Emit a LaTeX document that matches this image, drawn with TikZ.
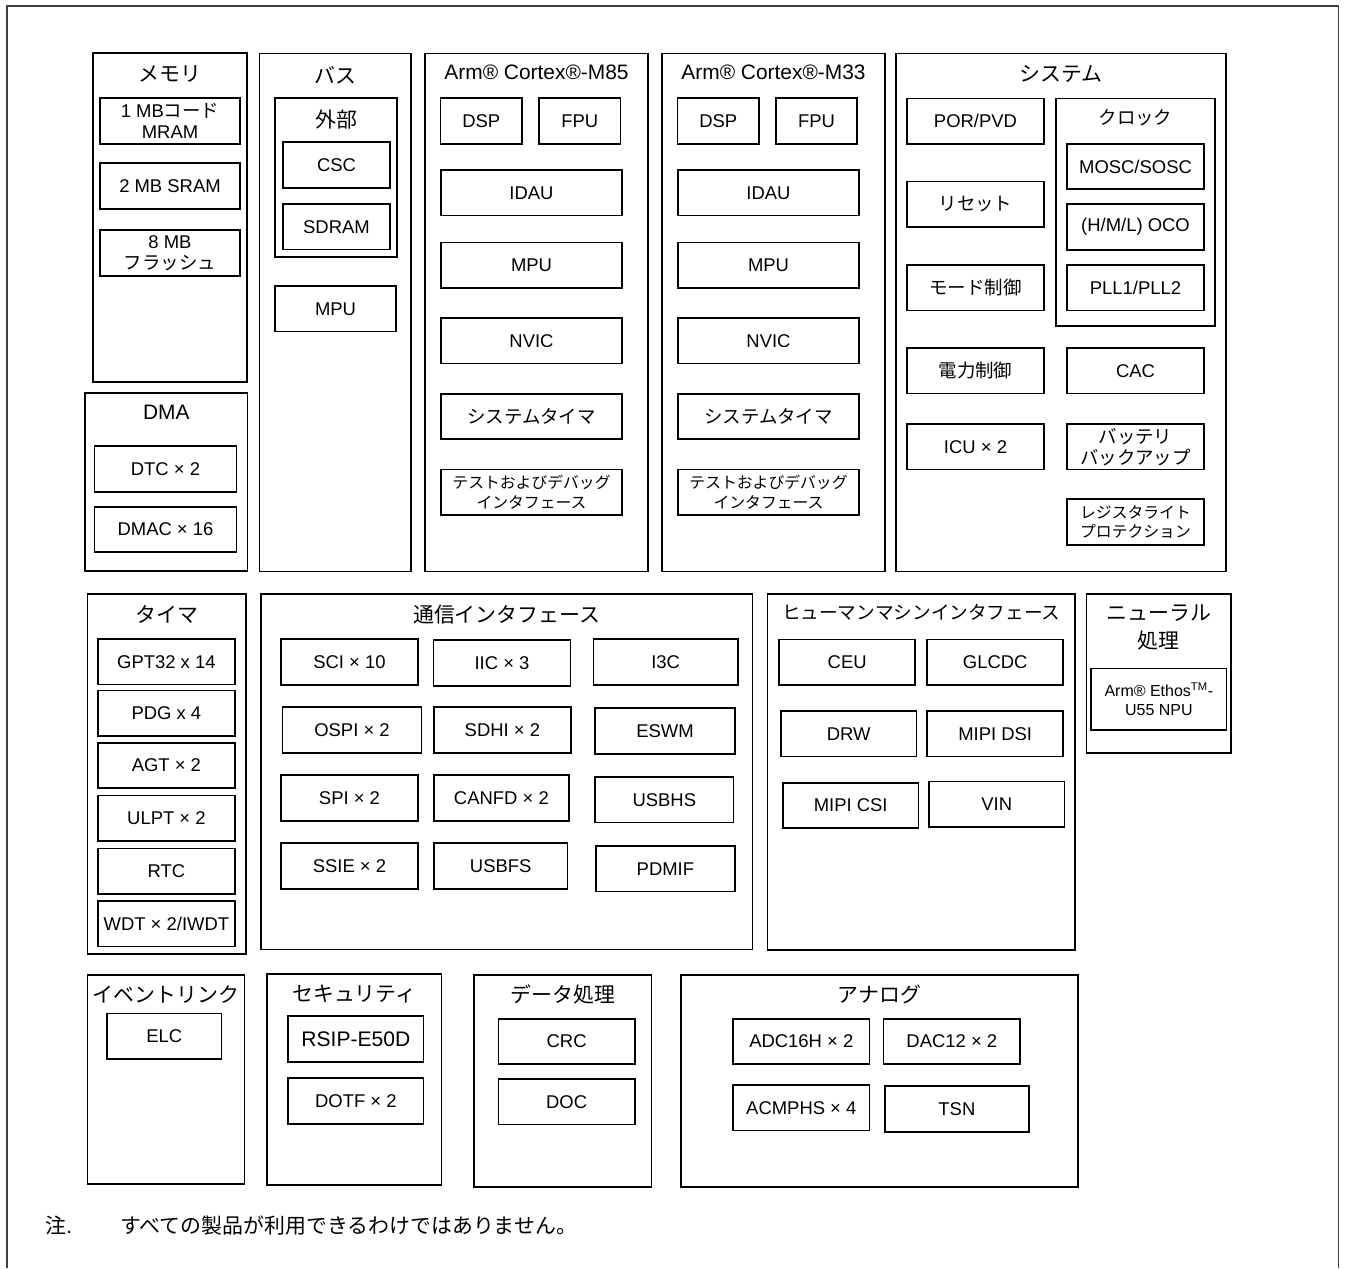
\documentclass[tikz,border=0pt]{standalone}
\usepackage{fontspec}
\setmainfont{Liberation Sans}
\newfontfamily\jp{Noto Sans CJK JP}
\usetikzlibrary{positioning,calc}
\newcommand\blkfont{\fontsize{10.5}{12}\selectfont}
\newcommand\smfont{\fontsize{9}{11.6}\selectfont}
\newcommand\ttlfont{\fontsize{11.9}{16}\selectfont}
\tikzset{
  grp/.style={rectangle,draw,line width=0.9pt},
  blk/.style={rectangle,draw,line width=0.9pt,minimum width=2.74cm,
    minimum height=0.91cm,inner sep=1pt,align=center,font={\blkfont}},
  jblk/.style={blk,font={\blkfont\jp}},
  sblk/.style={blk,font={\smfont\jp}},
  ttl/.style={inner sep=0pt,align=center,font={\ttlfont}},
  jttl/.style={ttl,font={\ttlfont\jp}},
  frame/.style={draw=black!75,line width=0.6pt},
}
\begin{document}
\begin{tikzpicture}[x=0.02cm,y=-0.02cm]
  \useasboundingbox (0,0) rectangle (1345,1268);
  \draw[frame] (7,1268) |- (1338.5,6) -- (1338.5,1268);

  \node[grp,minimum width=3.08cm,minimum height=6.58cm] (mem) at (170,217.5) {};
  \node[jttl] (memT) at ($(mem.north)+(0,22)$) {メモリ};
  \node[blk,minimum width=2.8cm] (mram) at (170,121) {1 MB{\jp コード}\\MRAM};
  \node[blk,minimum width=2.8cm] (sram) at (170,186) {2 MB SRAM};
  \node[blk,minimum width=2.8cm] (flash) at (170,253) {8 MB\\{\jp フラッシュ}};

  \node[grp,minimum width=3.25cm,minimum height=3.56cm] (dma) at (166.3,482) {};
  \node[ttl] (dmaT) at ($(dma.north)+(0,20)$) {DMA};
  \node[blk,minimum width=2.84cm] (dtc) at (165.5,469) {DTC × 2};
  \node[blk,minimum width=2.84cm] (dmac) at (165.5,529.5) {DMAC × 16};

  \node[grp,minimum width=3.03cm,minimum height=10.36cm] (bus) at (335.3,312.5) {};
  \node[jttl] (busT) at ($(bus.north)+(0,22)$) {バス};
  \node[grp,minimum width=2.44cm,minimum height=3.18cm] (ext) at (336,177.5) {};
  \node[jttl] (extT) at ($(ext.north)+(0,22)$) {外部};
  \node[blk,minimum width=2.13cm] (csc) at (336.5,165) {CSC};
  \node[blk,minimum width=2.13cm] (sdram) at (336.5,226.7) {SDRAM};
  \node[blk,minimum width=2.42cm] (bmpu) at (335.5,308.8) {MPU};

  \node[grp,minimum width=4.46cm,minimum height=10.36cm] (m85) at (536.5,312.5) {};
  \node[ttl] (m85T) at ($(m85.north)+(0,19.5)$) {Arm® Cortex®-M85};
  \node[blk,minimum width=1.63cm] (m85dsp) at (481.3,121) {DSP};
  \node[blk,minimum width=1.63cm] (m85fpu) at (579.8,121) {FPU};
  \node[blk,minimum width=3.62cm] (m85idau) at (531.5,192.8) {IDAU};
  \node[blk,minimum width=3.62cm] (m85mpu) at (531.5,265.3) {MPU};
  \node[blk,minimum width=3.62cm] (m85nvic) at (531.5,340.9) {NVIC};
  \node[jblk,minimum width=3.62cm] (m85tim) at (531.5,416.5) {システムタイマ};
  \node[sblk,minimum width=3.62cm] (m85dbg) at (531.5,492.3)
  {テストおよびデバッグ\\インタフェース};

  \node[grp,minimum width=4.46cm,minimum height=10.36cm] (m33) at (773.5,312.5) {};
  \node[ttl] (m33T) at ($(m33.north)+(0,19.5)$) {Arm® Cortex®-M33};
  \node[blk,minimum width=1.63cm] (m33dsp) at (718.3,121) {DSP};
  \node[blk,minimum width=1.63cm] (m33fpu) at (816.5,121) {FPU};
  \node[blk,minimum width=3.62cm] (m33idau) at (768.5,192.8) {IDAU};
  \node[blk,minimum width=3.62cm] (m33mpu) at (768.5,265.3) {MPU};
  \node[blk,minimum width=3.62cm] (m33nvic) at (768.5,340.9) {NVIC};
  \node[jblk,minimum width=3.62cm] (m33tim) at (768.5,416.5) {システムタイマ};
  \node[sblk,minimum width=3.62cm] (m33dbg) at (768.5,492.3)
  {テストおよびデバッグ\\インタフェース};

  \node[grp,minimum width=6.6cm,minimum height=10.36cm] (sys) at (1061,312.5) {};
  \node[jttl] (sysT) at ($(sys.north)+(0,21)$) {システム};
  \node[blk] (por) at (975.5,121.2) {POR/PVD};
  \node[jblk] (rst) at (975.5,204.3) {リセット};
  \node[jblk] (mode) at (975.5,287.8) {モード制御};
  \node[jblk] (pwr) at (975.5,370.8) {電力制御};
  \node[blk] (icu) at (975.5,446.7) {ICU × 2};
  \node[grp,minimum width=3.18cm,minimum height=4.55cm] (clk) at (1135.5,212.2) {};
  \node[jttl,font={\blkfont\jp}] (clkT) at ($(clk.north)+(0,20)$) {クロック};
  \node[blk] (mosc) at (1135.5,166.5) {MOSC/SOSC};
  \node[blk] (oco) at (1135.5,227) {(H/M/L) OCO};
  \node[blk] (pll) at (1135.5,287.8) {PLL1/PLL2};
  \node[blk] (cac) at (1135.5,370.8) {CAC};
  \node[jblk] (bat) at (1135.5,446.7) {バッテリ\\バックアップ};
  \node[sblk,font={\jp\fontsize{9}{11}\selectfont}] (rwp) at (1135.5,522)
  {レジスタライト\\プロテクション};

  \node[grp,minimum width=3.17cm,minimum height=7.2cm] (tim) at (166.7,774) {};
  \node[jttl] (timT) at ($(tim.north)+(0,21)$) {タイマ};
  \node[blk] (gpt) at (166.4,661.7) {GPT32 x 14};
  \node[blk] (pdg) at (166.4,713.3) {PDG x 4};
  \node[blk] (agt) at (166.4,765.5) {AGT × 2};
  \node[blk] (ulpt) at (166.4,818.3) {ULPT × 2};
  \node[blk] (rtc) at (166.4,871.2) {RTC};
  \node[blk] (wdt) at (166.4,923.8) {WDT × 2/IWDT};

  \node[grp,minimum width=9.84cm,minimum height=7.11cm] (com) at (506.7,771.7) {};
  \node[jttl] (comT) at ($(com.north)+(0,21)$) {通信インタフェース};
  \node[blk] (sci) at (349.5,662) {SCI × 10};
  \node[blk] (iic) at (502,663) {IIC × 3};
  \node[blk,minimum width=2.89cm] (i3c) at (665.6,662) {I3C};
  \node[blk,minimum width=2.78cm] (ospi) at (352,730) {OSPI × 2};
  \node[blk] (sdhi) at (502.4,730) {SDHI × 2};
  \node[blk,minimum width=2.8cm] (eswm) at (665,731) {ESWM};
  \node[blk] (spi) at (349.5,798) {SPI × 2};
  \node[blk,minimum width=2.7cm] (canfd) at (501.4,798) {CANFD × 2};
  \node[blk,minimum width=2.77cm] (usbhs) at (664.3,799.7) {USBHS};
  \node[blk] (ssie) at (349.5,866) {SSIE × 2};
  \node[blk,minimum width=2.67cm] (usbfs) at (500.7,866) {USBFS};
  \node[blk,minimum width=2.78cm] (pdmif) at (665.4,868.7) {PDMIF};

  \node[grp,minimum width=6.16cm,minimum height=7.12cm] (hmi) at (921.3,772) {};
  \node[jttl,font={\jp\fontsize{10.6}{12}\selectfont}] (hmiT) at ($(hmi.north)+(0,19.5)$)
  {ヒューマンマシンインタフェース};
  \node[blk,minimum width=2.72cm] (ceu) at (847.2,662.2) {CEU};
  \node[blk,minimum width=2.72cm] (glcdc) at (995.2,662.2) {GLCDC};
  \node[blk,minimum width=2.72cm] (drw) at (848.7,733.9) {DRW};
  \node[blk,minimum width=2.72cm] (dsi) at (995.2,733.9) {MIPI DSI};
  \node[blk,minimum width=2.72cm] (csi) at (850.7,805.5) {MIPI CSI};
  \node[blk,minimum width=2.72cm] (vin) at (996.7,804.3) {VIN};

  \node[grp,minimum width=2.89cm,minimum height=3.18cm] (neu) at (1158.7,673.5) {};
  \node[jttl] (neuT) at ($(neu.north)+(0,34)$) {ニューラル\\処理};
  \node[blk,minimum width=2.71cm,minimum height=1.23cm,
    font={\fontsize{9.1}{10.8}\selectfont}] (npu) at (1158.9,699.2)
  {Arm® Ethos\textsuperscript{TM}-\\U55 NPU};

  \node[grp,minimum width=3.14cm,minimum height=4.18cm] (evt) at (166.1,1079.5) {};
  \node[jttl] (evtT) at ($(evt.north)+(0,20)$) {イベントリンク};
  \node[blk,minimum width=2.3cm] (elc) at (164.2,1036.2) {ELC};

  \node[grp,minimum width=3.49cm,minimum height=4.22cm] (sec) at (354.3,1079.5) {};
  \node[jttl] (secT) at ($(sec.north)+(0,21)$) {セキュリティ};
  \node[blk,minimum width=2.71cm,font={\fontsize{12}{14}\selectfont}] (rsip)
  at (355.9,1039) {RSIP-E50D};
  \node[blk,minimum width=2.71cm] (dotf) at (355.9,1101) {DOTF × 2};

  \node[grp,minimum width=3.55cm,minimum height=4.24cm] (dat) at (562.7,1081) {};
  \node[jttl] (datT) at ($(dat.north)+(0,20.5)$) {データ処理};
  \node[blk,minimum width=2.73cm] (crc) at (566.6,1041.5) {CRC};
  \node[blk,minimum width=2.73cm] (doc) at (566.6,1101.9) {DOC};

  \node[grp,minimum width=7.94cm,minimum height=4.24cm] (ana) at (879.4,1081) {};
  \node[jttl] (anaT) at ($(ana.north)+(0,20.5)$) {アナログ};
  \node[blk,minimum width=2.73cm] (adc) at (801.3,1041.5) {ADC16H × 2};
  \node[blk,minimum width=2.73cm] (dac) at (951.8,1041.5) {DAC12 × 2};
  \node[blk,minimum width=2.73cm] (acmp) at (801.3,1107.7) {ACMPHS × 4};
  \node[blk,minimum width=2.88cm] (tsn) at (956.9,1109) {TSN};

  \node[ttl,anchor=base west] (noteA) at (45,1233) {{\jp 注}.};
  \node[jttl,anchor=base west] (noteB) at (120,1233)
  {すべての製品が利用できるわけではありません。};
\end{tikzpicture}
\end{document}
